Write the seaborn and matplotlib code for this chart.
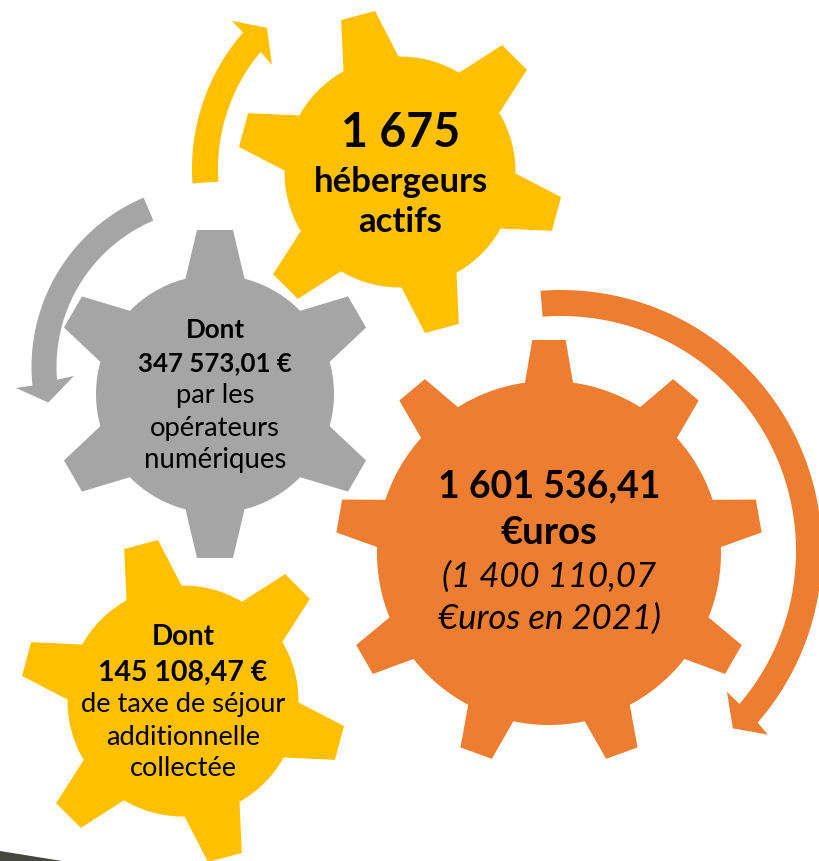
import numpy as np
import matplotlib
matplotlib.use('Agg')
import matplotlib.pyplot as plt
import seaborn as sns

# chart content
gear_names = ['hebergeurs', 'operateurs', 'taxe', 'total']
gear_teeth = [6, 6, 6, 9]
hebergeurs_lines = ['1 675', 'hébergeurs', 'actifs']
operateurs_lines = ['Dont', '347 573,01 €', 'par les', 'opérateurs', 'numériques']
taxe_lines = ['Dont', '145 108,47 €', 'de taxe de séjour', 'additionnelle', 'collectée']
total_lines = ['1 601 536,41', '€uros', '(1 400 110,07', '€uros en 2021)']

sns.set_theme(style='white')
plt.rcParams['font.family'] = ['Lato', 'DejaVu Sans']

yellow, grey, orange = sns.color_palette(['#FFC000', '#A5A5A5', '#ED7D31'])
W, H = 819, 862


def polar(cx, cy, r, deg):
    a = np.radians(deg)
    return cx + r*np.cos(a), cy - r*np.sin(a)


def gear_outline(cx, cy, body, tip, n, start, root_half, tip_half):
    xs, ys = [], []
    d = np.degrees(np.arcsin(root_half/body))
    step = 360.0/n
    for i in range(n):
        a = start + i*step
        ux, uy = np.cos(np.radians(a)), -np.sin(np.radians(a))
        vx, vy = -uy, ux
        # root corner, two tip corners, then body arc up to the next tooth
        x0, y0 = polar(cx, cy, body, a-d)
        xs.append(x0); ys.append(y0)
        xs += [cx+tip*ux+tip_half*vx, cx+tip*ux-tip_half*vx]
        ys += [cy+tip*uy+tip_half*vy, cy+tip*uy-tip_half*vy]
        arc = np.linspace(a+d, a+step-d, 30)
        x1, y1 = polar(cx, cy, body, arc)
        xs += list(x1); ys += list(y1)
    return xs, ys


def arrow_outline(cx, cy, r_in, r_out, a0, neck_out, neck_in, wing_out, wing_in, tip):
    arc_out = np.linspace(a0, neck_out, 80)
    arc_in = np.linspace(neck_in, a0, 80)
    x1, y1 = polar(cx, cy, r_out, arc_out)
    x2, y2 = polar(cx, cy, r_in, arc_in)
    head = [wing_out, tip, wing_in]
    hx = [polar(cx, cy, r, a)[0] for r, a in head]
    hy = [polar(cx, cy, r, a)[1] for r, a in head]
    return list(x1)+hx+list(x2), list(y1)+hy+list(y2)


fig = plt.figure(figsize=(W/100, H/100), dpi=100)
ax = fig.add_axes([0, 0, 1, 1])
ax.set_xlim(0, W)
ax.set_ylim(H, 0)
ax.axis('off')

# dark corner of the slide
ax.fill([0, 62, 0], [852, 862, 862], color='#45463F', lw=0)

# arrows
x, y = arrow_outline(400, 170, 182, 208, 184, 139, 140, (224, 138.6), (165, 140.9), (194, 133.3))
ax.fill(x, y, color=yellow, lw=0)
x, y = arrow_outline(215.5, 368, 159, 184, 113, 185.8, 184.6, (200.6, 186), (141.8, 183.6), (171, 192))
ax.fill(x, y, color=grey, lw=0)
x, y = arrow_outline(561, 552, 235, 261, 94.5, -41.1, -40.6, (276.5, -41.6), (217.6, -40.3), (247, -45.9))
ax.fill(x, y, color=orange, lw=0)

# gears, same order as gear_names
gear_geom = {
    'hebergeurs': dict(cx=400, cy=173, body=115.5, tip=162, start=105, root_half=28.5, tip_half=17.5),
    'operateurs': dict(cx=215, cy=395, body=119, tip=164, start=90, root_half=29.5, tip_half=18),
    'taxe': dict(cx=183, cy=702, body=115.5, tip=162, start=105, root_half=28.5, tip_half=17.5),
    'total': dict(cx=549, cy=554, body=172, tip=213, start=90, root_half=24, tip_half=16.7),
}
gear_colors = [yellow, grey, yellow, orange]
for name, n, col in zip(gear_names, gear_teeth, gear_colors):
    g = gear_geom[name]
    x, y = gear_outline(g['cx'], g['cy'], g['body'], g['tip'], n, g['start'], g['root_half'], g['tip_half'])
    ax.fill(x, y, color=col, lw=0)


def put_lines(lines, cx, baselines, sizes, weights, styles=None):
    styles = styles or ['normal']*len(lines)
    for t, b, s, w, st in zip(lines, baselines, sizes, weights, styles):
        ax.text(cx, b, t, ha='center', va='baseline', fontsize=s, fontweight=w, fontstyle=st, color='black')


put_lines(hebergeurs_lines, 400.5, [147, 192, 232], [33.5, 25, 25], ['bold']*3)
put_lines(operateurs_lines, 215, [338, 371, 403, 436, 468], [18.6, 18.6, 19.7, 19.7, 19.9],
          ['bold', 'bold', 'normal', 'normal', 'normal'])
put_lines(taxe_lines, 183, [645.5, 680.5, 712.5, 745, 776.5], [20, 20.5, 19.6, 19.6, 19.6],
          ['bold', 'bold', 'normal', 'normal', 'normal'])
put_lines(total_lines, 549, [497.5, 544, 587, 629], [27, 27.5, 25, 25],
          ['bold', 'bold', 'normal', 'normal'], ['normal', 'normal', 'italic', 'italic'])

fig.savefig('out.png', dpi=100, facecolor='white')
